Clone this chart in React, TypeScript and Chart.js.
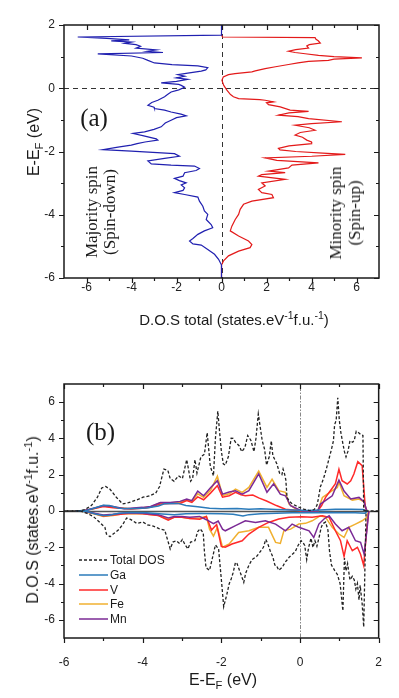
import React, { useEffect, useRef } from "react";
import { Chart, registerables } from "chart.js";

Chart.register(...registerables);

// ---------- Panel (a): total DOS, energy on vertical axis ----------
const spinUpE = [1.68, 1.62, 1.6, 1.55, 1.5, 1.43, 1.38, 1.34, 1.27, 1.22, 1.17, 1.13, 1.09, 1.04, 1.0, 0.96, 0.92, 0.88, 0.85, 0.8, 0.75, 0.68, 0.62, 0.55, 0.52, 0.46, 0.43, 0.36, 0.25, 0.09, -0.06, -0.2, -0.27, -0.33, -0.36, -0.38, -0.43, -0.46, -0.52, -0.59, -0.69, -0.73, -0.78, -0.85, -0.9, -0.96, -1.06, -1.12, -1.17, -1.25, -1.33, -1.4, -1.48, -1.55, -1.64, -1.7, -1.75, -1.82, -1.9, -1.95, -2.0, -2.05, -2.09, -2.15, -2.2, -2.28, -2.36, -2.43, -2.52, -2.62, -2.67, -2.73, -2.78, -2.88, -2.99, -3.09, -3.2, -3.3, -3.36, -3.46, -3.57, -3.67, -3.83, -3.99, -4.15, -4.36, -4.51, -4.67, -4.83, -4.94, -5.04, -5.15, -5.3, -5.46, -5.59, -6.0];
const spinUpDOS = [0, 0.05, 4.16, 4.2, 4.3, 4.39, 3.9, 3.79, 3.87, 3.3, 2.98, 3.27, 3.72, 4.31, 5.0, 6.24, 5.0, 4.75, 3.87, 3.4, 2.98, 2.4, 1.94, 1.5, 1.35, 0.6, 0.31, 0.08, 0.02, 0.1, 0.24, 0.4, 0.53, 0.76, 1.7, 1.94, 2.31, 2.0, 2.09, 2.61, 3.05, 3.87, 3.0, 2.53, 3.4, 3.87, 5.35, 4.0, 3.27, 3.9, 4.16, 3.5, 3.27, 3.6, 3.79, 4.0, 4.01, 3.0, 2.53, 2.6, 3.3, 4.5, 5.5, 4.01, 1.94, 2.46, 4.31, 3.13, 2.98, 2.09, 2.83, 1.79, 1.64, 2.83, 1.79, 1.94, 1.64, 1.79, 2.24, 2.31, 1.35, 0.98, 0.83, 0.76, 0.61, 0.46, 0.39, 0.76, 1.2, 1.35, 1.27, 0.76, 0.31, 0.09, 0, 0];

const spinDownE = [2.0, 1.68, 1.62, 1.58, 1.53, 1.5, 1.46, 1.42, 1.38, 1.33, 1.27, 1.21, 1.17, 1.13, 1.09, 1.02, 0.95, 0.88, 0.8, 0.75, 0.71, 0.65, 0.58, 0.54, 0.48, 0.43, 0.38, 0.33, 0.28, 0.22, 0.17, 0.12, 0.09, 0.03, -0.05, -0.12, -0.2, -0.27, -0.33, -0.38, -0.45, -0.54, -0.6, -0.64, -0.69, -0.75, -0.82, -0.87, -0.93, -1.01, -1.1, -1.22, -1.3, -1.38, -1.43, -1.5, -1.54, -1.6, -1.64, -1.7, -1.75, -1.8, -1.86, -1.94, -1.99, -2.07, -2.15, -2.22, -2.3, -2.39, -2.43, -2.46, -2.54, -2.6, -2.67, -2.78, -2.85, -2.92, -2.99, -3.06, -3.15, -3.23, -3.3, -3.36, -3.44, -3.57, -3.73, -3.88, -3.99, -4.15, -4.31, -4.41, -4.51, -4.62, -4.75, -4.83, -4.92, -4.96, -5.1, -5.25, -5.41, -5.59, -6.0];
const spinDownDOS = [0, 0, -6.39, -5.1, -4.1, -4.9, -4.0, -4.3, -3.8, -3.6, -3.8, -2.9, -3.3, -2.6, -5.5, -4.0, -3.5, -3.27, -2.98, -2.2, -1.05, -0.61, -0.7, -0.9, -1.5, -1.94, -1.64, -2.01, -1.5, -2.0, -2.68, -1.9, -1.79, -1.64, -1.9, -2.24, -2.4, -2.53, -2.7, -2.83, -3.1, -3.27, -3.0, -2.98, -2.53, -2.24, -1.8, -1.57, -2.0, -2.24, -2.5, -2.68, -3.0, -3.42, -3.93, -3.5, -3.27, -2.9, -2.83, -3.4, -3.75, -4.01, -4.6, -5.27, -4.01, -2.09, -1.87, -2.53, -3.27, -3.12, -2.24, -1.2, -0.98, -1.13, -1.64, -1.71, -2.09, -1.87, -1.57, -1.79, -1.64, -1.71, -2.09, -1.64, -1.05, -0.98, -0.83, -0.76, -0.61, -0.68, -0.46, -0.39, -0.76, -1.05, -1.27, -1.42, -1.27, -0.9, -0.61, -0.31, -0.13, 0, 0];

const aXMajor = [-6, -4, -2, 0, 2, 4, 6];
const aXMinor = [-5, -3, -1, 1, 3, 5];
const aYMajor = [-6, -4, -2, 0, 2];
const aYMinor = [-5, -3, -1, 1];

// ---------- Panel (b): projected DOS, [energy, DOS] pairs ----------
const gaUp = [[-5.7, 0], [-5.4, 0.04], [-5.2, 0.18], [-5.0, 0.32], [-4.85, 0.3], [-4.6, 0.15], [-4.3, 0.12], [-3.9, 0.16], [-3.6, 0.28], [-3.45, 0.4], [-3.1, 0.42], [-2.9, 0.3], [-2.6, 0.24], [-2.3, 0.15], [-2.0, 0.12], [-1.6, 0.14], [-1.3, 0.1], [-1.0, 0.12], [-0.6, 0.08], [-0.2, 0.05], [0.2, 0.03], [0.5, 0.06], [0.9, 0.1], [1.3, 0.1], [1.6, 0.08], [1.7, 0]];
const gaDown = [[-5.7, 0], [-5.4, -0.04], [-5.2, -0.16], [-5.0, -0.25], [-4.85, -0.24], [-4.6, -0.12], [-4.3, -0.08], [-3.9, -0.1], [-3.5, -0.16], [-3.2, -0.2], [-2.9, -0.15], [-2.5, -0.14], [-2.0, -0.15], [-1.7, -0.18], [-1.45, -0.28], [-1.3, -0.2], [-1.0, -0.15], [-0.6, -0.12], [-0.2, -0.1], [0.2, -0.1], [0.6, -0.08], [1.0, -0.1], [1.4, -0.1], [1.65, -0.12], [1.72, 0]];
const vUp = [[-5.7, 0], [-5.5, 0.02], [-5.2, 0.15], [-5.0, 0.25], [-4.75, 0.18], [-4.3, 0.11], [-4.0, 0.15], [-3.8, 0.2], [-3.55, 0.38], [-3.3, 0.42], [-3.05, 0.42], [-2.88, 0.57], [-2.75, 0.47], [-2.6, 0.78], [-2.45, 0.62], [-2.27, 1.0], [-2.1, 1.4], [-1.97, 0.76], [-1.8, 0.84], [-1.64, 1.03], [-1.5, 0.9], [-1.39, 0.84], [-1.2, 0.88], [-1.05, 0.72], [-0.85, 0.55], [-0.6, 0.3], [-0.37, 0.1], [0.0, 0.02], [0.45, 0], [0.55, 0.3], [0.65, 0.75], [0.8, 1.2], [0.9, 1.5], [0.99, 2.3], [1.07, 1.67], [1.2, 1.49], [1.29, 1.67], [1.37, 2.04], [1.47, 2.72], [1.58, 2.5], [1.66, 0.2], [1.7, 0]];
const vDown = [[-5.7, 0], [-5.5, -0.02], [-5.2, -0.15], [-5.0, -0.27], [-4.75, -0.22], [-4.3, -0.12], [-4.0, -0.15], [-3.6, -0.25], [-3.35, -0.5], [-3.2, -0.35], [-3.0, -0.35], [-2.8, -0.42], [-2.55, -0.45], [-2.38, -0.3], [-2.25, -1.05], [-2.12, -0.75], [-2.0, -1.95], [-1.9, -2.0], [-1.73, -1.82], [-1.47, -1.64], [-1.3, -1.27], [-1.05, -0.9], [-0.8, -0.63], [-0.54, -0.44], [-0.28, -0.35], [0.05, -0.32], [0.31, -0.35], [0.57, -0.26], [0.74, -0.35], [0.9, -1.09], [1.03, -1.64], [1.12, -2.5], [1.2, -1.64], [1.33, -2.19], [1.46, -2.0], [1.54, -2.38], [1.62, -3.0], [1.7, -0.9], [1.75, 0]];
const feUp = [[-5.7, 0], [-5.5, 0.02], [-5.2, 0.15], [-5.0, 0.28], [-4.75, 0.2], [-4.3, 0.12], [-4.0, 0.18], [-3.8, 0.22], [-3.55, 0.45], [-3.3, 0.45], [-3.05, 0.48], [-2.88, 0.62], [-2.75, 0.52], [-2.6, 0.95], [-2.45, 0.75], [-2.27, 1.15], [-2.1, 1.92], [-1.97, 0.85], [-1.8, 0.95], [-1.64, 1.21], [-1.47, 1.03], [-1.3, 1.3], [-1.05, 2.2], [-0.84, 1.3], [-0.71, 1.75], [-0.54, 1.12], [-0.37, 1.03], [-0.28, 0.38], [-0.11, 0.1], [0.05, 0], [0.45, 0], [0.57, 0.75], [0.82, 1.12], [0.95, 1.3], [0.99, 1.6], [1.12, 0.84], [1.33, 0.6], [1.5, 0.66], [1.63, 0.5], [1.7, 0]];
const feDown = [[-5.7, 0], [-5.5, -0.03], [-5.2, -0.18], [-5.0, -0.3], [-4.75, -0.25], [-4.5, -0.15], [-4.0, -0.15], [-3.6, -0.25], [-3.35, -0.45], [-3.2, -0.35], [-3.0, -0.35], [-2.8, -0.42], [-2.55, -0.38], [-2.38, -0.3], [-2.3, -1.0], [-2.2, -1.38], [-2.1, -0.9], [-1.97, -2.0], [-1.8, -1.82], [-1.56, -1.18], [-1.3, -1.09], [-1.05, -0.9], [-0.8, -0.9], [-0.62, -1.73], [-0.5, -1.79], [-0.41, -1.09], [-0.24, -1.0], [-0.03, -0.72], [0.14, -0.68], [0.31, -0.54], [0.52, -0.26], [0.65, -0.35], [0.82, -0.9], [0.99, -1.27], [1.12, -1.46], [1.24, -0.9], [1.41, -0.72], [1.58, -0.54], [1.7, -0.35], [1.75, 0]];
const mnUp = [[-5.7, 0], [-5.5, 0.02], [-5.2, 0.18], [-5.0, 0.3], [-4.75, 0.25], [-4.47, 0.12], [-4.0, 0.2], [-3.8, 0.25], [-3.55, 0.47], [-3.3, 0.47], [-3.05, 0.53], [-2.88, 0.66], [-2.75, 0.57], [-2.6, 1.1], [-2.45, 0.84], [-2.27, 1.3], [-2.1, 1.67], [-1.97, 0.93], [-1.8, 1.05], [-1.64, 1.12], [-1.47, 0.93], [-1.3, 1.12], [-1.05, 2.04], [-0.84, 1.03], [-0.67, 1.5], [-0.5, 0.93], [-0.37, 0.84], [-0.24, 0.29], [0.05, 0], [0.45, 0], [0.52, 0.38], [0.82, 0.84], [0.99, 1.7], [1.12, 1.1], [1.29, 0.66], [1.5, 0.75], [1.63, 0.5], [1.7, 0]];
const mnDown = [[-5.7, 0], [-5.5, -0.02], [-5.2, -0.14], [-5.0, -0.22], [-4.75, -0.18], [-4.4, -0.1], [-4.0, -0.12], [-3.6, -0.2], [-3.35, -0.38], [-3.2, -0.3], [-3.0, -0.3], [-2.8, -0.35], [-2.55, -0.3], [-2.38, -0.48], [-2.2, -0.7], [-2.08, -0.55], [-1.97, -1.0], [-1.9, -1.09], [-1.64, -0.81], [-1.39, -0.54], [-1.13, -0.63], [-0.88, -0.54], [-0.62, -0.72], [-0.37, -1.09], [-0.2, -0.72], [-0.03, -0.9], [0.23, -1.09], [0.35, -1.46], [0.48, -0.72], [0.61, -0.44], [0.74, -0.26], [0.9, -0.72], [1.07, -1.09], [1.24, -0.9], [1.41, -1.64], [1.54, -1.73], [1.63, -2.38], [1.7, -1.09], [1.75, 0]];

const bXMajor = [-6, -4, -2, 0, 2];
const bXMinor = [-5, -3, -1, 1];
const bYMajor = [-6, -4, -2, 0, 2, 4, 6];
const bYMinor = [-5, -3, -1, 1, 3, 5];

const legendNames = ["Total DOS", "Ga", "V", "Fe", "Mn"];
const legendColors = ["#222222", "#2b7bba", "#ff2a2a", "#f0b030", "#7b2a95"];

const SANS = "'Liberation Sans', Arial, sans-serif";
const SERIF = "'Liberation Serif', 'Times New Roman', serif";

function framePlugin(xMaj: number[], xMin: number[], yMaj: number[], yMin: number[]) {
  return {
    id: "frameTicks",
    afterDatasetsDraw(chart: any) {
      const { ctx, chartArea: a, scales } = chart;
      const sx = scales.x, sy = scales.y;
      ctx.save();
      ctx.strokeStyle = "#1a1a1a";
      ctx.lineWidth = 1.5;
      ctx.strokeRect(a.left, a.top, a.right - a.left, a.bottom - a.top);
      ctx.lineWidth = 1.2;
      ctx.beginPath();
      const xt = (v: number, len: number) => {
        const p = Math.round(sx.getPixelForValue(v)) + 0.5;
        ctx.moveTo(p, a.bottom); ctx.lineTo(p, a.bottom + len);
        ctx.moveTo(p, a.top); ctx.lineTo(p, a.top + len);
      };
      const yt = (v: number, len: number) => {
        const p = Math.round(sy.getPixelForValue(v)) + 0.5;
        ctx.moveTo(a.left, p); ctx.lineTo(a.left - len, p);
        ctx.moveTo(a.right, p); ctx.lineTo(a.right - len, p);
      };
      xMaj.forEach((v) => xt(v, 5));
      xMin.forEach((v) => xt(v, 3));
      yMaj.forEach((v) => yt(v, 5));
      yMin.forEach((v) => yt(v, 3));
      ctx.stroke();
      ctx.restore();
    },
  };
}

function refLinesPlugin(kind: "a" | "b") {
  return {
    id: "refLines",
    beforeDatasetsDraw(chart: any) {
      const { ctx, chartArea: a, scales } = chart;
      const x0 = Math.round(scales.x.getPixelForValue(0)) + 0.5;
      const y0 = Math.round(scales.y.getPixelForValue(0)) + 0.5;
      ctx.save();
      if (kind === "a") {
        ctx.strokeStyle = "#333";
        ctx.lineWidth = 1;
        ctx.setLineDash([5, 4]);
        ctx.beginPath();
        ctx.moveTo(a.left, y0); ctx.lineTo(a.right, y0);
        ctx.moveTo(x0, a.top); ctx.lineTo(x0, a.bottom);
        ctx.stroke();
      } else {
        ctx.strokeStyle = "#888";
        ctx.lineWidth = 1;
        ctx.setLineDash([1.5, 1.5, 4, 1.5]);
        ctx.beginPath();
        ctx.moveTo(x0, a.top); ctx.lineTo(x0, a.bottom);
        ctx.stroke();
        ctx.setLineDash([]);
        ctx.strokeStyle = "#555";
        ctx.lineWidth = 1.6;
        ctx.beginPath();
        ctx.moveTo(a.left, y0); ctx.lineTo(a.right, y0);
        ctx.stroke();
      }
      ctx.restore();
    },
  };
}

function axisOpts(min: number, max: number, major: number[], pad: number, fit: (s: any) => void) {
  return {
    type: "linear",
    min,
    max,
    grid: { display: false, drawTicks: false },
    border: { display: false },
    ticks: {
      padding: pad,
      color: "#222",
      font: { family: SANS, size: 12 },
      autoSkip: false,
      maxRotation: 0,
      callback: (v: any) => String(v),
    },
    afterBuildTicks: (s: any) => {
      s.ticks = major.map((v) => ({ value: v }));
    },
    afterFit: fit,
  };
}

const lineDs = (data: any[], color: string, width: number, order: number, dash?: number[]) => ({
  data,
  showLine: true,
  borderColor: color,
  backgroundColor: color,
  borderWidth: width,
  pointRadius: 0,
  fill: false,
  tension: 0,
  order,
  borderDash: dash || [],
});

const pairs = (arr: number[][]) => arr.map((p) => ({ x: p[0], y: p[1] }));

export default function App() {
  const refA = useRef<HTMLCanvasElement>(null);
  const refB = useRef<HTMLCanvasElement>(null);

  useEffect(() => {
    const up = spinUpE.map((e, i) => ({ x: spinUpDOS[i], y: e }));
    const down = spinDownE.map((e, i) => ({ x: spinDownDOS[i], y: e }));
    const chartA = new Chart(refA.current as HTMLCanvasElement, {
      type: "scatter",
      data: {
        datasets: [
          lineDs(down, "#2020b0", 1.2, 1),
          lineDs(up, "#e31a1a", 1.2, 2),
        ],
      },
      options: {
        responsive: false,
        animation: false,
        events: [],
        layout: { padding: { top: 25, right: 20, left: 0, bottom: 0 } },
        plugins: { legend: { display: false }, tooltip: { enabled: false } },
        scales: {
          x: axisOpts(-7, 7, aXMajor, 2, (s: any) => { s.height = 42; }),
          y: axisOpts(-6, 2, aYMajor, 9, (s: any) => { s.width = 64; }),
        },
      } as any,
      plugins: [refLinesPlugin("a"), framePlugin(aXMajor, aXMinor, aYMajor, aYMinor)],
    } as any);

    const totUp = spinUpE.map((e, i) => ({ x: e, y: spinUpDOS[i] }));
    const totDown = spinDownE.map((e, i) => ({ x: e, y: spinDownDOS[i] }));
    const chartB = new Chart(refB.current as HTMLCanvasElement, {
      type: "scatter",
      data: {
        datasets: [
          lineDs(totUp, legendColors[0], 1.3, 1, [3, 2]),
          lineDs(totDown, legendColors[0], 1.3, 1, [3, 2]),
          lineDs(pairs(gaUp), legendColors[1], 1.5, 2),
          lineDs(pairs(gaDown), legendColors[1], 1.5, 2),
          lineDs(pairs(mnUp), legendColors[4], 1.5, 3),
          lineDs(pairs(mnDown), legendColors[4], 1.5, 3),
          lineDs(pairs(vUp), legendColors[2], 1.5, 4),
          lineDs(pairs(vDown), legendColors[2], 1.5, 4),
          lineDs(pairs(feUp), legendColors[3], 1.5, 5),
          lineDs(pairs(feDown), legendColors[3], 1.5, 5),
        ],
      },
      options: {
        responsive: false,
        animation: false,
        events: [],
        layout: { padding: { top: 54, right: 20, left: 0, bottom: 0 } },
        plugins: { legend: { display: false }, tooltip: { enabled: false } },
        scales: {
          x: axisOpts(-6, 2, bXMajor, 17, (s: any) => { s.height = 60; }),
          y: axisOpts(-7, 7, bYMajor, 9, (s: any) => { s.width = 64; }),
        },
      } as any,
      plugins: [refLinesPlugin("b"), framePlugin(bXMajor, bXMinor, bYMajor, bYMinor)],
    } as any);

    return () => {
      chartA.destroy();
      chartB.destroy();
    };
  }, []);

  const sup = { fontSize: "0.7em", lineHeight: 0, verticalAlign: "super" } as React.CSSProperties;
  const sub = { fontSize: "0.7em", lineHeight: 0, verticalAlign: "sub" } as React.CSSProperties;
  const abs = (cx: number, cy: number, rot: boolean, extra: React.CSSProperties): React.CSSProperties => ({
    position: "absolute",
    left: cx,
    top: cy,
    transform: rot ? "translate(-50%,-50%) rotate(-90deg)" : "translate(-50%,-50%)",
    whiteSpace: "nowrap",
    color: "#1a1a1a",
    ...extra,
  });

  const legendRowY = [560, 575, 589.5, 604, 619];

  return (
    <div style={{ position: "absolute", left: 0, top: 0, width: 399, height: 698, background: "#fff", overflow: "hidden" }}>
      <canvas ref={refA} width={399} height={320} style={{ position: "absolute", left: 0, top: 0, width: 399, height: 320 }} />
      <canvas ref={refB} width={399} height={368} style={{ position: "absolute", left: 0, top: 330, width: 399, height: 368 }} />

      {/* Panel (a) texts */}
      <div style={abs(34, 142, true, { fontFamily: SANS, fontSize: 16 })}>
        E-E<span style={sub}>F</span> (eV)
      </div>
      <div style={abs(234, 319, false, { fontFamily: SANS, fontSize: 15 })}>
        D.O.S total (states.eV<span style={sup}>-1</span>f.u.<span style={sup}>-1</span>)
      </div>
      <div style={abs(94, 118, false, { fontFamily: SERIF, fontSize: 25 })}>(a)</div>
      <div style={abs(101, 212, true, { fontFamily: SERIF, fontSize: 17, lineHeight: "18px", textAlign: "center" })}>
        Majority spin<br />(Spin-down)
      </div>
      <div style={abs(344.5, 212.5, true, { fontFamily: SERIF, fontSize: 17, lineHeight: "19px", textAlign: "center" })}>
        Minority spin<br />(Spin-up)
      </div>

      {/* Panel (b) texts */}
      <div style={abs(33, 520, true, { fontFamily: SANS, fontSize: 16 })}>
        D.O.S (states.eV<span style={sup}>-1</span>f.u.<span style={sup}>-1</span>)
      </div>
      <div style={abs(223, 680, false, { fontFamily: SANS, fontSize: 16 })}>
        E-E<span style={sub}>F</span> (eV)
      </div>
      <div style={abs(100.5, 432, false, { fontFamily: SERIF, fontSize: 25 })}>(b)</div>

      {legendNames.map((name, i) => (
        <div key={name} style={{ position: "absolute", left: 79, top: legendRowY[i] - 8, height: 16, display: "flex", alignItems: "center" }}>
          <svg width={30} height={16} style={{ display: "block" }}>
            <line x1={0} y1={8} x2={29} y2={8} stroke={legendColors[i]} strokeWidth={i === 0 ? 1.3 : 1.5} strokeDasharray={i === 0 ? "3,2" : undefined} />
          </svg>
          <span style={{ fontFamily: SANS, fontSize: 12, color: "#1a1a1a", marginLeft: 1 }}>{name}</span>
        </div>
      ))}
    </div>
  );
}
